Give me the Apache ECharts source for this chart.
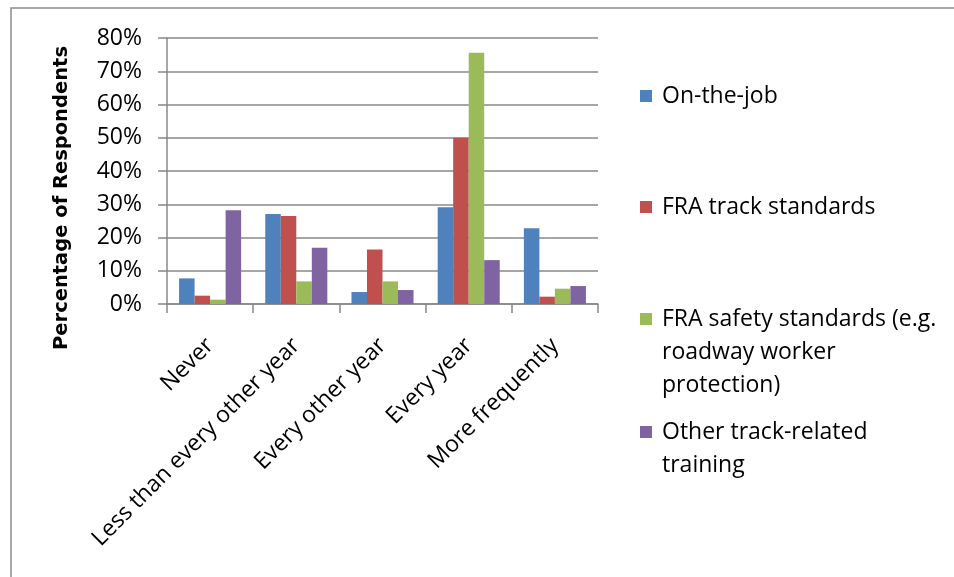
<!DOCTYPE html>
<html>
<head>
<meta charset="utf-8">
<script src="https://cdn.jsdelivr.net/npm/echarts@6/dist/echarts.min.js"></script>
<style>
  html, body { margin: 0; padding: 0; background: #fff; }
  #chart { width: 954px; height: 577px; }
</style>
</head>
<body>
<div id="chart"></div>
<script>
// categories along the x axis
const categories = ['Never', 'Less than every other year', 'Every other year', 'Every year', 'More frequently']

// series names and values (percent)
const seriesNames = [
  'On-the-job',
  'FRA track standards',
  'FRA safety standards (e.g.\nroadway worker\nprotection)',
  'Other track-related\ntraining',
]
const onTheJob = [7.7, 27.1, 3.6, 29.1, 22.8]
const fraTrack = [2.5, 26.5, 16.4, 50.0, 2.2]
const fraSafety = [1.3, 6.8, 6.8, 75.6, 4.6]
const otherTrack = [28.2, 16.9, 4.2, 13.2, 5.4]

const yTicks = [0, 10, 20, 30, 40, 50, 60, 70, 80]

const COLORS = ['#4f81bd', '#c0504d', '#9bbb59', '#8064a2']
const FONT = '"Open Sans", Lato, sans-serif'
const TEXT_SIZE = 23
const GRID_GRAY = '#888888'

const values = [onTheJob, fraTrack, fraSafety, otherTrack]

// legend item centers (Excel spreads them down the right side)
const legendCenters = [96, 207, 319, 432]
const LINE_H = 33

function buildLegend(name, idx) {
  const lines = name.split('\n').length
  // pad with blank lines above so the icon sits on the first line
  const total = 2 * lines - 1
  return {
    data: [name],
    orient: 'vertical',
    left: 640,
    top: legendCenters[idx] - (total * LINE_H) / 2,
    padding: 0,
    itemWidth: 12,
    itemHeight: 12,
    icon: 'rect',
    selectedMode: false,
    formatter: n => '\n'.repeat(lines - 1) + n,
    textStyle: {
      fontFamily: FONT,
      fontSize: TEXT_SIZE,
      color: '#000',
      lineHeight: LINE_H,
      padding: [0, 0, 0, 5],
    },
  }
}

const chart = echarts.init(document.getElementById('chart'), null, { renderer: 'canvas' })

chart.setOption({
  animation: false,
  color: COLORS,
  graphic: [{
    type: 'rect',
    shape: { x: 11, y: 8, width: 1000, height: 700 },
    style: { fill: 'none', stroke: '#8c8c8c', lineWidth: 1.5 },
    silent: true,
  }],
  legend: seriesNames.map(buildLegend),
  grid: { left: 167, right: 356, top: 38, bottom: 273 },
  xAxis: {
    type: 'category',
    data: categories,
    axisLine: { lineStyle: { color: GRID_GRAY, width: 1.5 } },
    axisTick: { show: true, length: 9, lineStyle: { color: GRID_GRAY, width: 1.5 } },
    axisLabel: {
      rotate: 45,
      interval: 0,
      margin: 38,
      fontFamily: FONT,
      fontSize: TEXT_SIZE,
      color: '#000',
    },
  },
  yAxis: {
    type: 'value',
    min: yTicks[0],
    max: yTicks[yTicks.length - 1],
    interval: 10,
    name: 'Percentage of Respondents',
    nameLocation: 'middle',
    nameGap: 95,
    nameTextStyle: {
      fontFamily: '"DejaVu Sans", sans-serif',
      fontWeight: 'bold',
      fontSize: 19.5,
      color: '#000',
      padding: [0, 54, 0, 0],
    },
    axisLine: { show: true, lineStyle: { color: GRID_GRAY, width: 1.5 } },
    axisTick: { show: true, length: 9, lineStyle: { color: GRID_GRAY, width: 1.5 } },
    splitLine: { lineStyle: { color: GRID_GRAY, width: 1.5 } },
    axisLabel: {
      margin: 25,
      fontFamily: FONT,
      fontSize: TEXT_SIZE,
      color: '#000',
      formatter: v => v + '%',
    },
  },
  series: seriesNames.map((name, i) => ({
    name,
    type: 'bar',
    data: values[i],
    barGap: '0%',
    barCategoryGap: '28%',
    itemStyle: { color: COLORS[i] },
  })),
})
</script>
</body>
</html>
